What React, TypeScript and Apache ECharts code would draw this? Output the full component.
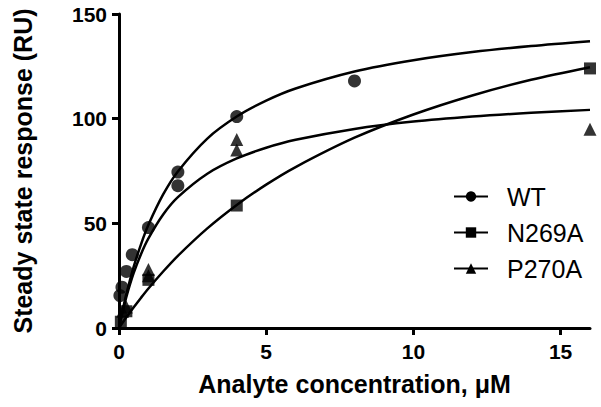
import React, { useEffect, useRef } from "react";
import * as echarts from "echarts";

const xTicks = [0, 5, 10, 15];
const yTicks = [0, 50, 100, 150];

// measured points
const wtPoints: [number, number][] = [
  [0.03, 15.5], [0.1, 19.5], [0.25, 27], [0.45, 35], [1, 48], [2, 74.5], [2, 68], [4, 101], [8, 118],
];
const n269aPoints: [number, number][] = [
  [0.0625, 3], [0.25, 8], [1, 23], [4, 58.5], [16, 124],
];
const p270aPoints: [number, number][] = [
  [0.125, 8], [0.25, 10], [1, 28], [1, 25], [4, 90], [4, 85], [16, 95],
];

// fitted curves
const curveX = [0, 0.0625, 0.125, 0.25, 0.5, 0.75, 1, 1.5, 2, 3, 4, 5, 6, 8, 10, 12, 14, 16];
const wtCurve = [0, 4.4, 8.5, 16.2, 29.3, 40.1, 49.3, 63.8, 74.8, 90.5, 101.0, 108.6, 114.4, 122.5, 127.9, 131.8, 134.7, 137.0];
const n269aCurve = [0, 1.3, 2.6, 5.1, 9.9, 14.5, 18.9, 27.0, 34.5, 47.6, 58.8, 68.5, 76.9, 90.9, 102.0, 111.1, 118.6, 124.6];
const p270aCurve = [0, 4.1, 7.9, 14.9, 26.3, 35.4, 42.8, 54.2, 62.5, 73.7, 81.0, 86.1, 89.9, 95.1, 98.6, 101.0, 102.8, 104.2];

const FONT = "'Liberation Sans', Arial, sans-serif";

export default function App() {
  const ref = useRef<HTMLDivElement>(null);
  useEffect(() => {
    if (!ref.current) return;
    const chart = echarts.init(ref.current, undefined, { renderer: "svg" });
    const zip = (ys: number[]) => curveX.map((x, i) => [x, ys[i]]);
    const curve = (name: string, ys: number[], symbol: string) => ({
      name,
      type: "line",
      data: zip(ys),
      smooth: 0.3,
      showSymbol: false,
      symbol,
      symbolSize: 12,
      lineStyle: { color: "#000", width: 2.5 },
      itemStyle: { color: "#000" },
      silent: true,
      z: 2,
    });
    const pts = (name: string, data: [number, number][], symbol: string, size: number) => ({
      name,
      type: "scatter",
      data,
      symbol,
      symbolSize: size,
      itemStyle: { color: "#000" },
      z: 3,
    });
    chart.setOption({
      animation: false,
      backgroundColor: "#fff",
      grid: { left: 119, right: 11, top: 14, bottom: 79 },
      legend: {
        orient: "vertical",
        left: 448,
        top: 179,
        itemWidth: 34,
        itemHeight: 13,
        itemGap: 11,
        data: ["WT", "N269A", "P270A"],
        textStyle: { fontSize: 25, fontFamily: FONT, color: "#000", padding: [0, 0, 0, 14] },
      },
      xAxis: {
        type: "value",
        min: 0,
        max: 16,
        interval: 5,
        splitLine: { show: false },
        axisLine: { show: true, lineStyle: { color: "#000", width: 3 } },
        axisTick: { show: true, length: 7, lineStyle: { color: "#000", width: 3 }, customValues: xTicks },
        axisLabel: { customValues: xTicks, margin: 13, fontSize: 21, fontWeight: "bold", color: "#000", fontFamily: FONT },
        name: "Analyte concentration, μM",
        nameLocation: "middle",
        nameGap: 43,
        nameTextStyle: { fontSize: 25, fontWeight: "bold", color: "#000", fontFamily: FONT },
      },
      yAxis: {
        type: "value",
        min: 0,
        max: 150,
        interval: 50,
        splitLine: { show: false },
        axisLine: { show: true, lineStyle: { color: "#000", width: 3 } },
        axisTick: { show: true, length: 7, lineStyle: { color: "#000", width: 3 }, customValues: yTicks },
        axisLabel: { customValues: yTicks, margin: 12, fontSize: 21, fontWeight: "bold", color: "#000", fontFamily: FONT },
        name: "Steady state response (RU)",
        nameLocation: "middle",
        nameGap: 84,
        nameTextStyle: { fontSize: 25, fontWeight: "bold", color: "#000", fontFamily: FONT },
      },
      series: [
        curve("WT", wtCurve, "circle"),
        curve("N269A", n269aCurve, "rect"),
        curve("P270A", p270aCurve, "triangle"),
        pts("WT", wtPoints, "circle", 13),
        pts("N269A", n269aPoints, "rect", 12),
        pts("P270A", p270aPoints, "triangle", 13),
      ],
    });
    return () => chart.dispose();
  }, []);
  return <div ref={ref} style={{ width: 601, height: 407, position: "absolute", left: 0, top: 0 }} />;
}
